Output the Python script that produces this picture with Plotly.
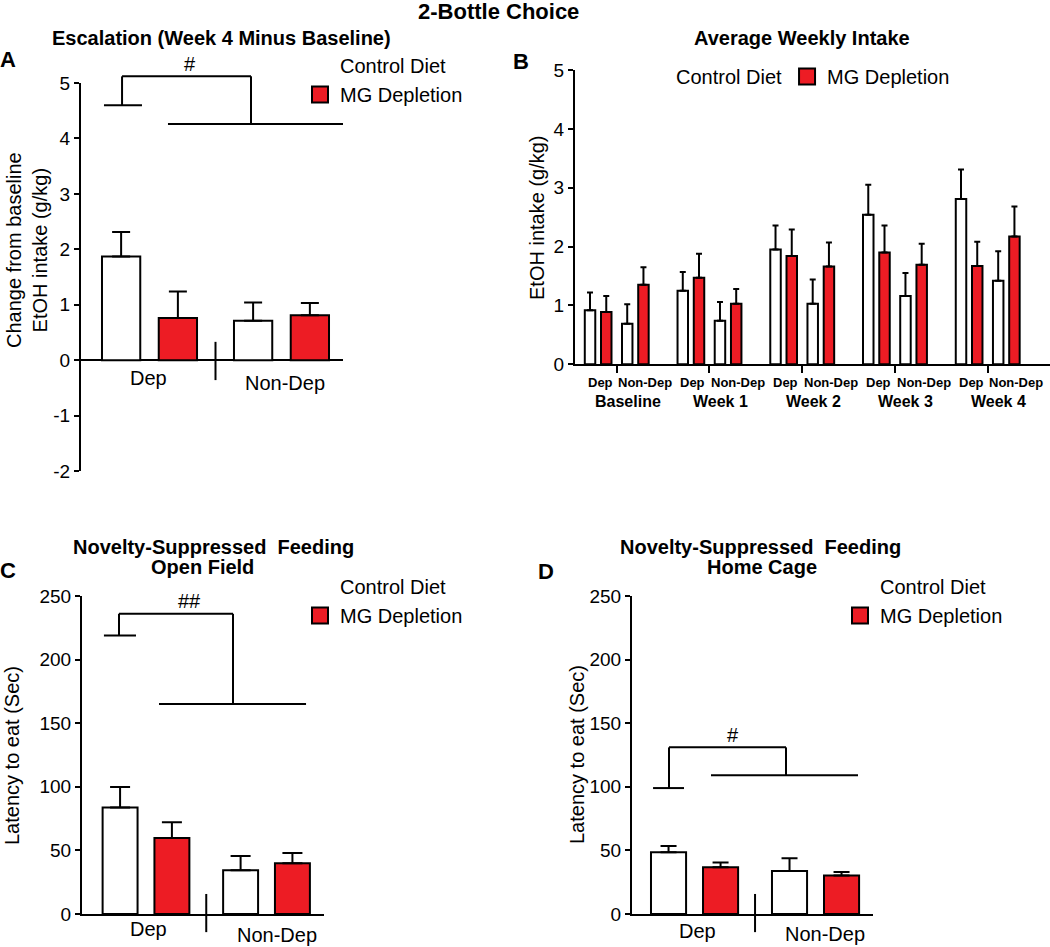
import plotly.graph_objects as go

# ---------------- data ----------------
GROUPS = ["Dep", "Non-Dep"]
DIETS = ["Control Diet", "MG Depletion"]

# Panel A: escalation (week 4 minus baseline), g/kg
A_CTRL = [1.87, 0.71]
A_CTRL_SEM = [0.44, 0.33]
A_MG = [0.76, 0.81]
A_MG_SEM = [0.48, 0.22]
A_YTICKS = [-2, -1, 0, 1, 2, 3, 4, 5]

# Panel B: average weekly intake, g/kg
B_WEEKS = ["Baseline", "Week 1", "Week 2", "Week 3", "Week 4"]
B_CTRL_DEP = [0.92, 1.25, 1.95, 2.54, 2.81]
B_CTRL_DEP_SEM = [0.30, 0.32, 0.41, 0.51, 0.50]
B_MG_DEP = [0.89, 1.47, 1.84, 1.90, 1.67]
B_MG_DEP_SEM = [0.27, 0.41, 0.45, 0.46, 0.41]
B_CTRL_ND = [0.69, 0.74, 1.03, 1.16, 1.42]
B_CTRL_ND_SEM = [0.33, 0.32, 0.41, 0.39, 0.50]
B_MG_ND = [1.35, 1.03, 1.66, 1.69, 2.17]
B_MG_ND_SEM = [0.30, 0.25, 0.41, 0.36, 0.51]
B_YTICKS = [0, 1, 2, 3, 4, 5]

# Panel C: novelty-suppressed feeding, open field (sec)
C_CTRL = [83.7, 34.4]
C_CTRL_SEM = [16.2, 11.2]
C_MG = [59.8, 39.9]
C_MG_SEM = [12.3, 8.1]

# Panel D: novelty-suppressed feeding, home cage (sec)
D_CTRL = [48.5, 33.8]
D_CTRL_SEM = [5.0, 10.0]
D_MG = [36.7, 30.2]
D_MG_SEM = [3.7, 2.9]
CD_YTICKS = [0, 50, 100, 150, 200, 250]

# significance brackets: (short level, top level, long level, label)
A_SIG = (4.60, 5.12, 4.26, "#")
C_SIG = (219, 236, 165, "##")
D_SIG = (99, 131, 109, "#")

# ---------------- style ----------------
W, H = 1050, 947
FONT = "Liberation Sans, Arial, Helvetica, sans-serif"
RED = "#ED1C24"
BLACK = "#000000"


def fx(px):
    return px / W


def fy(py):
    return 1 - py / H


A_RANGE = [-2, 5]
B_RANGE = [0, 5]
CD_RANGE = [0, 250]

fig = go.Figure()

BAR_W = 0.29
OFF_CTRL = -0.36
OFF_MG = 0.07


def add_pair(xa, ya, ctrl, ctrl_sem, mg, mg_sem, capw):
    for vals, sem, col, off in ((ctrl, ctrl_sem, "white", OFF_CTRL), (mg, mg_sem, RED, OFF_MG)):
        fig.add_trace(go.Bar(
            x=GROUPS, y=vals, width=[BAR_W] * len(vals), offset=off,
            marker=dict(color=col, line=dict(color=BLACK, width=2)),
            error_y=dict(type="data", array=sem, arrayminus=[0] * len(sem), symmetric=False,
                         color=BLACK, thickness=2, width=capw),
            xaxis=xa, yaxis=ya, showlegend=False, hoverinfo="skip"))


add_pair("x", "y", A_CTRL, A_CTRL_SEM, A_MG, A_MG_SEM, 9)
add_pair("x3", "y3", C_CTRL, C_CTRL_SEM, C_MG, C_MG_SEM, 10)
add_pair("x4", "y4", D_CTRL, D_CTRL_SEM, D_MG, D_MG_SEM, 8)

# Panel B bars (numeric x: week index, non-dep pair shifted)
ND_SHIFT = 0.401
BW_B = 0.113
wk = list(range(len(B_WEEKS)))
for xs, vals, sem, col, off in (
        (wk, B_CTRL_DEP, B_CTRL_DEP_SEM, "white", -0.144),
        (wk, B_MG_DEP, B_MG_DEP_SEM, RED, 0.031),
        ([i + ND_SHIFT for i in wk], B_CTRL_ND, B_CTRL_ND_SEM, "white", -0.144),
        ([i + ND_SHIFT for i in wk], B_MG_ND, B_MG_ND_SEM, RED, 0.031)):
    fig.add_trace(go.Bar(
        x=xs, y=vals, width=[BW_B] * len(vals), offset=off,
        marker=dict(color=col, line=dict(color=BLACK, width=2)),
        error_y=dict(type="data", array=sem, arrayminus=[0] * len(sem), symmetric=False,
                     color=BLACK, thickness=2, width=3),
        xaxis="x2", yaxis="y2", showlegend=False, hoverinfo="skip"))

# legend entries
for lg, xa, ya in (("legend", "x", "y"), ("legend2", "x2", "y2"),
                   ("legend3", "x3", "y3"), ("legend4", "x4", "y4")):
    for name, col, lw in ((DIETS[0], "rgba(255,255,255,0)", 0), (DIETS[1], RED, 2)):
        fig.add_trace(go.Scatter(
            x=[None], y=[None], mode="markers", name=name,
            marker=dict(symbol="square", size=16, color=col, line=dict(color=BLACK, width=lw)),
            xaxis=xa, yaxis=ya, legend=lg, showlegend=True))

shapes = []
annotations = []


def line(xref, yref, x0, y0, x1, y1):
    shapes.append(dict(type="line", xref=xref, yref=yref, x0=x0, y0=y0, x1=x1, y1=y1,
                       line=dict(color=BLACK, width=2)))


def dom(v, rng):
    # value -> fraction of the y axis domain (lets brackets sit above the axis top)
    return (v - rng[0]) / (rng[1] - rng[0])


def bracket(xr, ya, rng, sig, xs):
    low, top, long_, lab = sig
    yr = ya + " domain"
    sx0, sx1, vx, rx, lx0, lx1, labx, laby_shift = xs
    line(xr, yr, sx0, dom(low, rng), sx1, dom(low, rng))
    line(xr, yr, vx, dom(low, rng), vx, dom(top, rng))
    line(xr, yr, vx, dom(top, rng), rx, dom(top, rng))
    line(xr, yr, rx, dom(top, rng), rx, dom(long_, rng))
    line(xr, yr, lx0, dom(long_, rng), lx1, dom(long_, rng))
    annotations.append(dict(text=lab, x=labx, y=dom(top, rng), xref=xr, yref=yr, showarrow=False,
                            yanchor="bottom", yshift=laby_shift,
                            font=dict(size=20, family=FONT, color=BLACK)))


bracket("x", "y", A_RANGE, A_SIG, (-0.345, -0.057, -0.208, 0.769, 0.14, 1.466, 0.307, -1))
bracket("x3", "y3", CD_RANGE, C_SIG, (-0.349, -0.083, -0.224, 0.722, 0.108, 1.328, 0.357, 0))
bracket("x4", "y4", CD_RANGE, D_SIG, (-0.343, -0.087, -0.211, 0.756, 0.136, 1.351, 0.318, -1))

# dividers between Dep and Non-Dep
line("x", "y", 0.5, -0.36, 0.5, 0.33)
line("x3", "y3 domain", 0.5, -0.057, 0.5, 0.063)
line("x4", "y4 domain", 0.5, -0.057, 0.5, 0.063)


def dat_ann(text, xr, yr, x, y, size, xshift=0, yshift=0, bold=False):
    annotations.append(dict(text=f"<b>{text}</b>" if bold else text, x=x, y=y, xref=xr, yref=yr,
                            showarrow=False, xshift=xshift, yshift=yshift,
                            font=dict(size=size, family=FONT, color=BLACK)))


# group labels A, C, D
dat_ann(GROUPS[0], "x", "y", 0, 0, 20, -1, -18)
dat_ann(GROUPS[1], "x", "y", 1, 0, 20, 4, -23)
dat_ann(GROUPS[0], "x3", "y3", 0, 0, 20, 2, -15)
dat_ann(GROUPS[1], "x3", "y3", 1, 0, 20, 10, -21)
dat_ann(GROUPS[0], "x4", "y4", 0, 0, 20, 3, -17)
dat_ann(GROUPS[1], "x4", "y4", 1, 0, 20, 9, -20)

# group labels B
for i, w in enumerate(B_WEEKS):
    dat_ann(GROUPS[0], "x2", "y2", i, 0, 13, 2, -18, bold=True)
    dat_ann(GROUPS[1], "x2", "y2", i + ND_SHIFT, 0, 13, 10, -18, bold=True)
    dat_ann(w, "x2", "y2", i + ND_SHIFT / 2, 0, 16, 11, -37, bold=True)


def px_ann(text, x, y, size, bold=False, angle=0):
    annotations.append(dict(text=f"<b>{text}</b>" if bold else text, x=fx(x), y=fy(y),
                            xref="paper", yref="paper", showarrow=False, textangle=angle,
                            xanchor="center", yanchor="middle",
                            font=dict(size=size, family=FONT, color=BLACK)))


px_ann("2-Bottle Choice", 498, 12, 22, bold=True)
px_ann("Escalation (Week 4 Minus Baseline)", 221, 38, 20, bold=True)
px_ann("Average Weekly Intake", 802, 38, 20, bold=True)
px_ann("Novelty-Suppressed  Feeding", 213, 547, 20, bold=True)
px_ann("Open Field", 202, 567, 20, bold=True)
px_ann("Novelty-Suppressed  Feeding", 760, 547, 20, bold=True)
px_ann("Home Cage", 762, 567, 20, bold=True)
px_ann("A", 8, 60, 22, bold=True)
px_ann("B", 521, 62, 22, bold=True)
px_ann("C", 8, 570, 22, bold=True)
px_ann("D", 546, 571, 22, bold=True)
px_ann("Change from baseline<br>EtOH intake (g/kg)", 27, 250, 20, angle=-90)
px_ann("EtOH intake (g/kg)", 537, 218, 20, angle=-90)
px_ann("Latency to eat (Sec)", 12, 756, 20, angle=-90)
px_ann("Latency to eat (Sec)", 577, 755, 20, angle=-90)

yax_common = dict(showline=True, linecolor=BLACK, linewidth=2, ticks="outside", ticklen=5,
                  tickwidth=2, tickcolor=BLACK, showgrid=False,
                  tickfont=dict(size=19, family=FONT, color=BLACK))
xcat_common = dict(type="category", showgrid=False, zeroline=False, showticklabels=False,
                   fixedrange=True)

legend_common = dict(bgcolor="rgba(0,0,0,0)", font=dict(size=20, family=FONT, color=BLACK),
                     itemclick=False, itemdoubleclick=False, tracegroupgap=0,
                     xanchor="left", yanchor="top", borderwidth=0)

fig.update_layout(
    width=W, height=H, margin=dict(l=0, r=0, t=0, b=0, autoexpand=False),
    paper_bgcolor="white", plot_bgcolor="rgba(0,0,0,0)",
    barmode="overlay", shapes=shapes, annotations=annotations,
    font=dict(family=FONT, color=BLACK),
    xaxis=dict(domain=[fx(81), fx(343)], range=[-0.519, 1.466], showline=False, ticks="",
               anchor="y", **xcat_common),
    yaxis=dict(domain=[fy(471), fy(83)], range=A_RANGE, tickvals=A_YTICKS,
               ticktext=[str(v) for v in A_YTICKS], anchor="x",
               zeroline=True, zerolinecolor=BLACK, zerolinewidth=2, **yax_common),
    xaxis2=dict(domain=[fx(575), 1.0], range=[-0.2496, 4.872], showline=True, linecolor=BLACK,
                linewidth=2, ticks="outside", ticklen=7, tickwidth=2, tickcolor=BLACK,
                tickvals=[i + ND_SHIFT / 2 for i in wk], showticklabels=False, showgrid=False,
                zeroline=False, anchor="y2"),
    yaxis2=dict(domain=[fy(364.3), fy(70)], range=B_RANGE, tickvals=B_YTICKS, anchor="x2",
                zeroline=False, **yax_common),
    xaxis3=dict(domain=[fx(82), fx(324)], range=[-0.531, 1.477], showline=True,
                linecolor=BLACK, linewidth=2, ticks="", anchor="y3", **xcat_common),
    yaxis3=dict(domain=[fy(914), fy(596)], range=CD_RANGE, tickvals=CD_YTICKS, anchor="x3",
                zeroline=False, **yax_common),
    xaxis4=dict(domain=[fx(632), fx(873)], range=[-0.517, 1.475], showline=True,
                linecolor=BLACK, linewidth=2, ticks="", anchor="y4", **xcat_common),
    yaxis4=dict(domain=[fy(914), fy(596)], range=CD_RANGE, tickvals=CD_YTICKS, anchor="x4",
                zeroline=False, **yax_common),
    legend=dict(x=fx(300), y=fy(46), orientation="v", **legend_common),
    legend2=dict(x=fx(636), y=fy(57), orientation="h", **legend_common),
    legend3=dict(x=fx(300), y=fy(567), orientation="v", **legend_common),
    legend4=dict(x=fx(840), y=fy(567), orientation="v", **legend_common),
)

fig.write_html("out.html", config={"displayModeBar": False},
               post_script="document.body.style.margin='0';document.body.style.overflow='hidden';")
